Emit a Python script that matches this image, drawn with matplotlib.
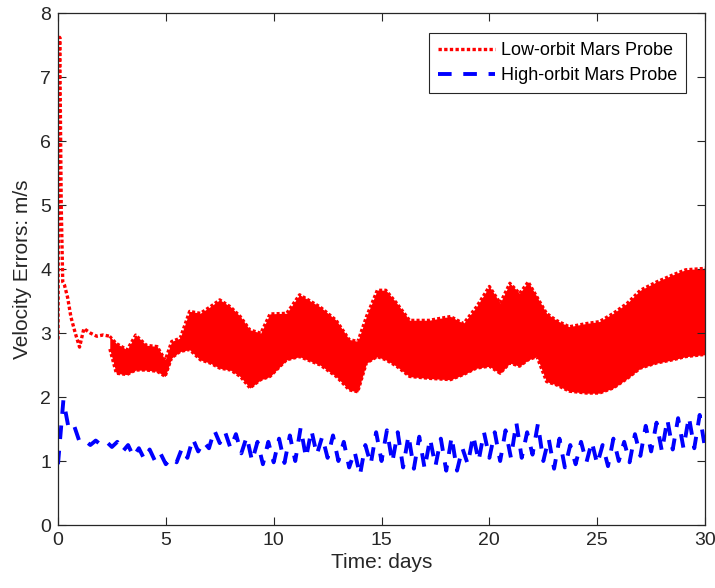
import numpy as np
import matplotlib
matplotlib.use('Agg')
import matplotlib.pyplot as plt

# low-orbit probe: spike at the start (single line), then a dense oscillation band
red_early_days = [0, 0.03, 0.08, 0.15, 0.22, 0.3, 0.45, 0.6, 0.8, 1.0, 1.2, 1.5, 1.8, 2.1, 2.4]
red_early_vel = [2.9, 6.0, 7.62, 5.0, 3.8, 3.75, 3.55, 3.25, 3.0, 2.78, 3.07, 3.0, 2.95, 2.97, 2.95]

red_band_days = [2.4, 2.7, 3.2, 3.6, 4.1, 4.6, 4.97, 5.27, 5.66,
                 6.1, 6.6, 7.05, 7.5, 8.0, 8.45, 8.9, 9.4, 9.83,
                 10.6, 11.2, 12.15, 12.9, 13.5, 13.9, 14.3, 14.8, 15.2, 15.7,
                 16.3, 17.2, 18.2, 18.8, 19.4, 20.0, 20.5, 20.95, 21.4, 21.8,
                 22.2, 22.65, 23.1, 23.7, 24.5, 25.1, 25.75, 26.4, 27.0, 27.75,
                 28.5, 29.1, 29.9, 30.0]
red_band_high = [2.95, 2.84, 2.74, 2.97, 2.81, 2.79, 2.58, 2.87, 2.92,
                 3.34, 3.31, 3.41, 3.52, 3.41, 3.26, 3.05, 3.0, 3.3,
                 3.31, 3.6, 3.41, 3.2, 2.9, 2.87, 3.26, 3.67, 3.67, 3.47,
                 3.2, 3.2, 3.26, 3.15, 3.41, 3.73, 3.47, 3.78, 3.62, 3.8,
                 3.57, 3.31, 3.2, 3.1, 3.15, 3.18, 3.31, 3.47, 3.67, 3.8,
                 3.91, 3.99, 4.01, 4.02]
red_band_low = [2.75, 2.37, 2.35, 2.42, 2.42, 2.4, 2.32, 2.61, 2.71,
                2.74, 2.58, 2.53, 2.45, 2.42, 2.32, 2.14, 2.27, 2.32,
                2.58, 2.63, 2.5, 2.32, 2.11, 2.08, 2.53, 2.63, 2.58, 2.48,
                2.32, 2.29, 2.27, 2.35, 2.45, 2.48, 2.37, 2.53, 2.48, 2.58,
                2.63, 2.24, 2.19, 2.09, 2.06, 2.06, 2.14, 2.29, 2.45, 2.53,
                2.58, 2.63, 2.66, 2.66]

# high-orbit probe: troughs every 0.5 day (t = 0, 0.5, ...), peaks in between
blue_trough = [0.95, 1.5, 1.3, 1.25, 1.25, 1.22, 1.15, 1.07, 1.03, 1.0,
               0.95, 0.98, 1.05, 1.15, 1.2, 1.28, 1.2, 1.12, 1.0, 0.95,
               0.98, 0.97, 1.0, 1.05, 1.1, 1.05, 1.0, 0.9, 0.78, 0.95,
               1.0, 0.98, 0.9, 0.88, 0.88, 0.92, 0.85, 0.85, 0.95, 1.0,
               1.05, 1.0, 1.05, 1.05, 1.1, 1.0, 0.88, 0.9, 0.95, 0.98,
               0.95, 0.92, 1.0, 0.98, 1.08, 1.15, 1.15, 1.18, 1.2, 1.2,
               1.2]
blue_peak = [1.95, 1.55, 1.32, 1.32, 1.3, 1.3, 1.25, 1.2, 1.18, 1.12,
             1.05, 1.2, 1.35, 1.3, 1.48, 1.45, 1.42, 1.38, 1.3, 1.3,
             1.35, 1.4, 1.52, 1.48, 1.38, 1.4, 1.3, 1.15, 1.25, 1.45,
             1.48, 1.45, 1.4, 1.38, 1.35, 1.35, 1.38, 1.2, 1.4, 1.45,
             1.45, 1.48, 1.6, 1.45, 1.58, 1.35, 1.35, 1.25, 1.3, 1.3,
             1.25, 1.35, 1.3, 1.42, 1.55, 1.6, 1.65, 1.67, 1.69, 1.72]

blue_days = np.arange(len(blue_trough) + len(blue_peak)) * 0.25
blue_vel = np.empty(len(blue_days))
blue_vel[0::2] = blue_trough
blue_vel[1::2] = blue_peak

plt.rcParams['font.family'] = ['Liberation Sans', 'DejaVu Sans']
dark = '#262626'

fig = plt.figure(figsize=(7.15, 5.88), dpi=100)
ax = fig.add_axes([0.0811, 0.1071, 0.905, 0.8707])

ax.fill_between(red_band_days, red_band_low, red_band_high, color='red', lw=0)
ax.plot(red_band_days, red_band_high, color='red', lw=2.2, dashes=(1, 0.7))
ax.plot(red_band_days, red_band_low, color='red', lw=2.2, dashes=(1, 0.7))
ax.plot(red_early_days, red_early_vel, color='red', lw=2.4, dashes=(1, 0.7),
        label='Low-orbit Mars Probe')
ax.plot(blue_days, blue_vel, color='blue', lw=2.8, dashes=(3.5, 3),
        label='High-orbit Mars Probe')

ax.set_xlim(0, 30)
ax.set_ylim(0, 8)
ax.set_xticks(range(0, 31, 5))
ax.set_yticks(range(0, 9))
ax.tick_params(direction='in', top=True, right=True, length=6, width=0.8,
               labelsize=14, colors=dark, pad=5)
for sp in ax.spines.values():
    sp.set_color(dark)
    sp.set_linewidth(0.9)

ax.set_xlabel('Time: days', fontsize=15, color=dark, labelpad=3)
ax.set_ylabel('Velocity Errors: m/s', fontsize=15, color=dark, labelpad=6)

leg = ax.legend(loc='upper right', bbox_to_anchor=(0.9706, 0.961), borderaxespad=0,
                fancybox=False, edgecolor=dark, framealpha=1, fontsize=13,
                handlelength=3.2, handletextpad=0.3, labelspacing=0.45,
                borderpad=0.5)
leg.get_frame().set_linewidth(0.8)

fig.savefig('out.png', dpi=100)
